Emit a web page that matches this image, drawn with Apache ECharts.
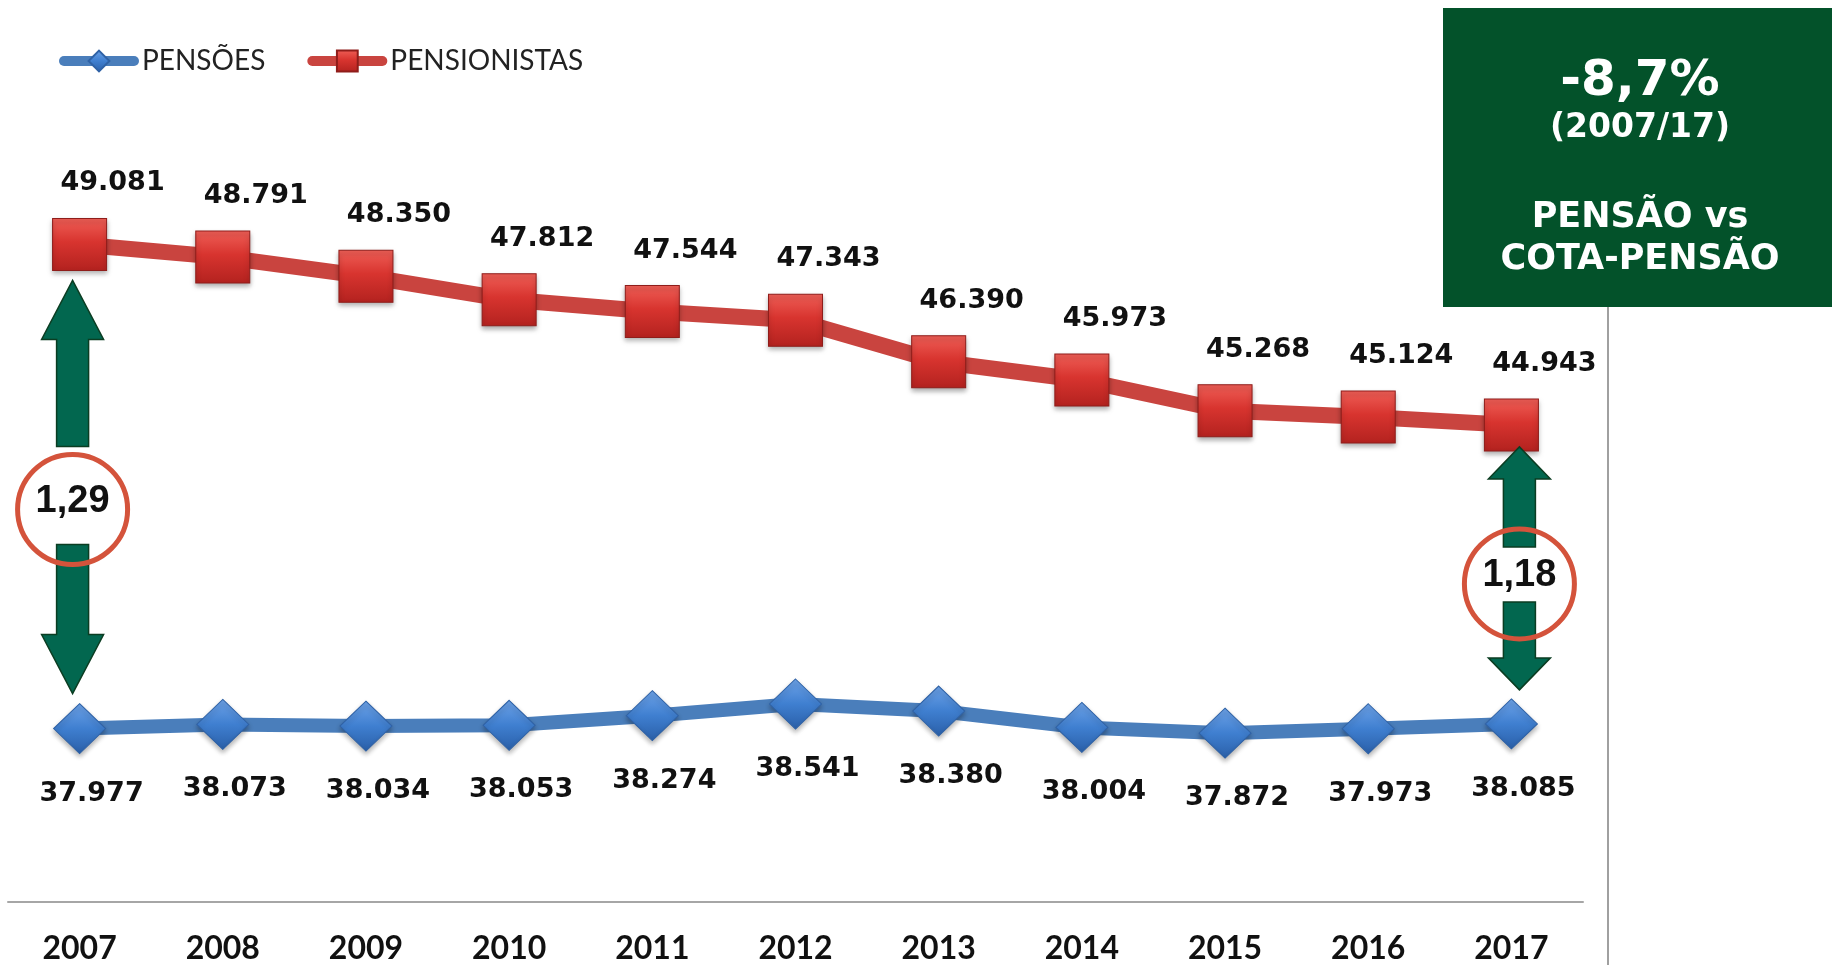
<!DOCTYPE html>
<html>
<head>
<meta charset="utf-8">
<script src="https://cdn.jsdelivr.net/npm/echarts@6/dist/echarts.min.js"></script>
<style>
  html, body { margin: 0; padding: 0; background: #fff; }
  #grafico { width: 1832px; height: 965px; }
</style>
</head>
<body>
<div id="grafico"></div>
<script>
// dados
const anos = ['2007', '2008', '2009', '2010', '2011', '2012', '2013', '2014', '2015', '2016', '2017'];
const pensoes = [37977, 38073, 38034, 38053, 38274, 38541, 38380, 38004, 37872, 37973, 38085];
const pensionistas = [49081, 48791, 48350, 47812, 47544, 47343, 46390, 45973, 45268, 45124, 44943];
const destaqueTitulo = '-8,7%';
const destaquePeriodo = '(2007/17)';
const destaqueTexto = ['PENSÃO vs', 'COTA-PENSÃO'];

// formata 49081 -> 49.081
function milhar(v) {
    return String(v).replace(/\B(?=(\d{3})+(?!\d))/g, '.');
}

// razão pensionistas / pensões -> "1,29"
function razao(i) {
    return (pensionistas[i] / pensoes[i]).toFixed(2).replace('.', ',');
}

const chart = echarts.init(document.getElementById('grafico'));

const fonteRotulo = 'DejaVu Sans';

const option = {
    animation: false,
    grid: { left: 8, right: 249, top: 30, bottom: 63 },
    legend: {
        data: ['PENSÕES', 'PENSIONISTAS'],
        left: 54,
        top: 42,
        itemWidth: 70,
        itemHeight: 26,
        itemGap: 42,
        lineStyle: { width: 10, cap: 'round' },
        textStyle: { fontFamily: 'Lato', fontSize: 28, color: '#222', padding: [0, 0, 0, 3] }
    },
    xAxis: {
        type: 'category',
        data: anos,
        boundaryGap: true,
        axisLine: { lineStyle: { color: '#a6a6a6', width: 2 } },
        axisTick: { show: false },
        axisLabel: {
            margin: 31,
            fontFamily: 'Lato',
            fontWeight: 'bold',
            fontSize: 32,
            color: '#111'
        }
    },
    yAxis: {
        type: 'value',
        min: 34000,
        max: 54000,
        show: false,
        splitLine: { show: false }
    },
    series: [
        {
            name: 'PENSÕES',
            type: 'line',
            data: pensoes,
            symbol: 'diamond',
            symbolSize: [52, 50],
            lineStyle: { color: '#4a7ebb', width: 14, cap: 'round' },
            itemStyle: {
                color: new echarts.graphic.LinearGradient(0, 0, 0, 1, [
                    { offset: 0, color: '#6ea3e8' },
                    { offset: 0.5, color: '#3f7fd0' },
                    { offset: 1, color: '#2a5fa8' }
                ]),
                borderColor: '#2f62a6',
                borderWidth: 1,
                shadowColor: 'rgba(0,0,0,0.3)',
                shadowBlur: 5,
                shadowOffsetY: 3
            },
            label: {
                show: true,
                position: 'bottom',
                distance: 26,
                offset: [12, 0],
                formatter: p => milhar(p.value),
                fontFamily: fonteRotulo,
                fontWeight: 'bold',
                fontSize: 27,
                color: '#111'
            },
            z: 3
        },
        {
            name: 'PENSIONISTAS',
            type: 'line',
            data: pensionistas,
            symbol: 'rect',
            symbolSize: [54, 52],
            lineStyle: { color: '#c9443f', width: 16, cap: 'round' },
            itemStyle: {
                color: new echarts.graphic.LinearGradient(0, 0, 0, 1, [
                    { offset: 0, color: '#ef5f57' },
                    { offset: 0.45, color: '#d8342f' },
                    { offset: 1, color: '#b3221f' }
                ]),
                borderColor: '#8f1d1a',
                borderWidth: 1,
                shadowColor: 'rgba(0,0,0,0.35)',
                shadowBlur: 5,
                shadowOffsetY: 3
            },
            label: {
                show: true,
                position: 'top',
                distance: 21,
                offset: [33, 0],
                formatter: p => milhar(p.value),
                fontFamily: fonteRotulo,
                fontWeight: 'bold',
                fontSize: 27,
                color: '#111'
            },
            z: 3
        }
    ]
};

chart.setOption(option);

// setas duplas com a razão entre as séries
function setaCima(cx, topo, cabeca, fim) {
    return [[cx, topo], [cx + 31, topo + cabeca], [cx + 16, topo + cabeca],
            [cx + 16, fim], [cx - 16, fim], [cx - 16, topo + cabeca], [cx - 31, topo + cabeca]];
}
function setaBaixo(cx, base, cabeca, inicio) {
    return [[cx, base], [cx + 31, base - cabeca], [cx + 16, base - cabeca],
            [cx + 16, inicio], [cx - 16, inicio], [cx - 16, base - cabeca], [cx - 31, base - cabeca]];
}

const anotacoes = [
    { i: 0, dx: -7, folgaTopo: 36, folgaBase: 35, cabeca: 59, dcy: 265, cima: 63, baixo: 35 },
    { i: anos.length - 1, dx: 8, folgaTopo: 22, folgaBase: 34, cabeca: 32, dcy: 159, cima: 37, baixo: 18 }
];

const elementos = [];
anotacoes.forEach(a => {
    const pVermelho = chart.convertToPixel({ seriesIndex: 1 }, [a.i, pensionistas[a.i]]);
    const pAzul = chart.convertToPixel({ seriesIndex: 0 }, [a.i, pensoes[a.i]]);
    const cx = pVermelho[0] + a.dx;
    const cy = pVermelho[1] + a.dcy;
    const estiloSeta = { fill: '#02674f', stroke: '#0b3d22', lineWidth: 1.5 };
    elementos.push({
        type: 'polygon',
        shape: { points: setaCima(cx, pVermelho[1] + a.folgaTopo, a.cabeca, cy - a.cima) },
        style: estiloSeta,
        z: 10
    });
    elementos.push({
        type: 'polygon',
        shape: { points: setaBaixo(cx, pAzul[1] - a.folgaBase, a.cabeca, cy + a.baixo) },
        style: estiloSeta,
        z: 10
    });
    elementos.push({
        type: 'ellipse',
        shape: { cx: cx, cy: cy, rx: 55, ry: 55 },
        style: { fill: 'transparent', stroke: '#d4533b', lineWidth: 5 },
        z: 11
    });
    elementos.push({
        type: 'text',
        x: cx,
        y: cy - 8,
        style: {
            text: razao(a.i),
            fontFamily: 'Liberation Sans',
            fontWeight: 'bold',
            fontSize: 38,
            fill: '#111',
            align: 'center',
            verticalAlign: 'middle'
        },
        z: 12
    });
});

// caixa verde de destaque e linha divisória
elementos.push({
    type: 'line',
    shape: { x1: 1608, y1: 300, x2: 1608, y2: 965 },
    style: { stroke: '#a0a0a0', lineWidth: 2 },
    z: 1
});
elementos.push({
    type: 'rect',
    shape: { x: 1443, y: 8, width: 389, height: 299 },
    style: { fill: '#03522a' },
    z: 2
});
const textoCaixa = [
    { t: destaqueTitulo, y: 82, s: 50 },
    { t: destaquePeriodo, y: 128, s: 33 },
    { t: destaqueTexto[0], y: 218, s: 35 },
    { t: destaqueTexto[1], y: 260, s: 35 }
];
textoCaixa.forEach(l => {
    elementos.push({
        type: 'text',
        x: 1640,
        y: l.y,
        style: {
            text: l.t,
            fontFamily: 'DejaVu Sans',
            fontWeight: 'bold',
            fontSize: l.s,
            fill: '#ffffff',
            align: 'center',
            verticalAlign: 'middle'
        },
        z: 3
    });
});

chart.setOption({ graphic: { elements: elementos } });

window.addEventListener('resize', () => chart.resize());
</script>
</body>
</html>
